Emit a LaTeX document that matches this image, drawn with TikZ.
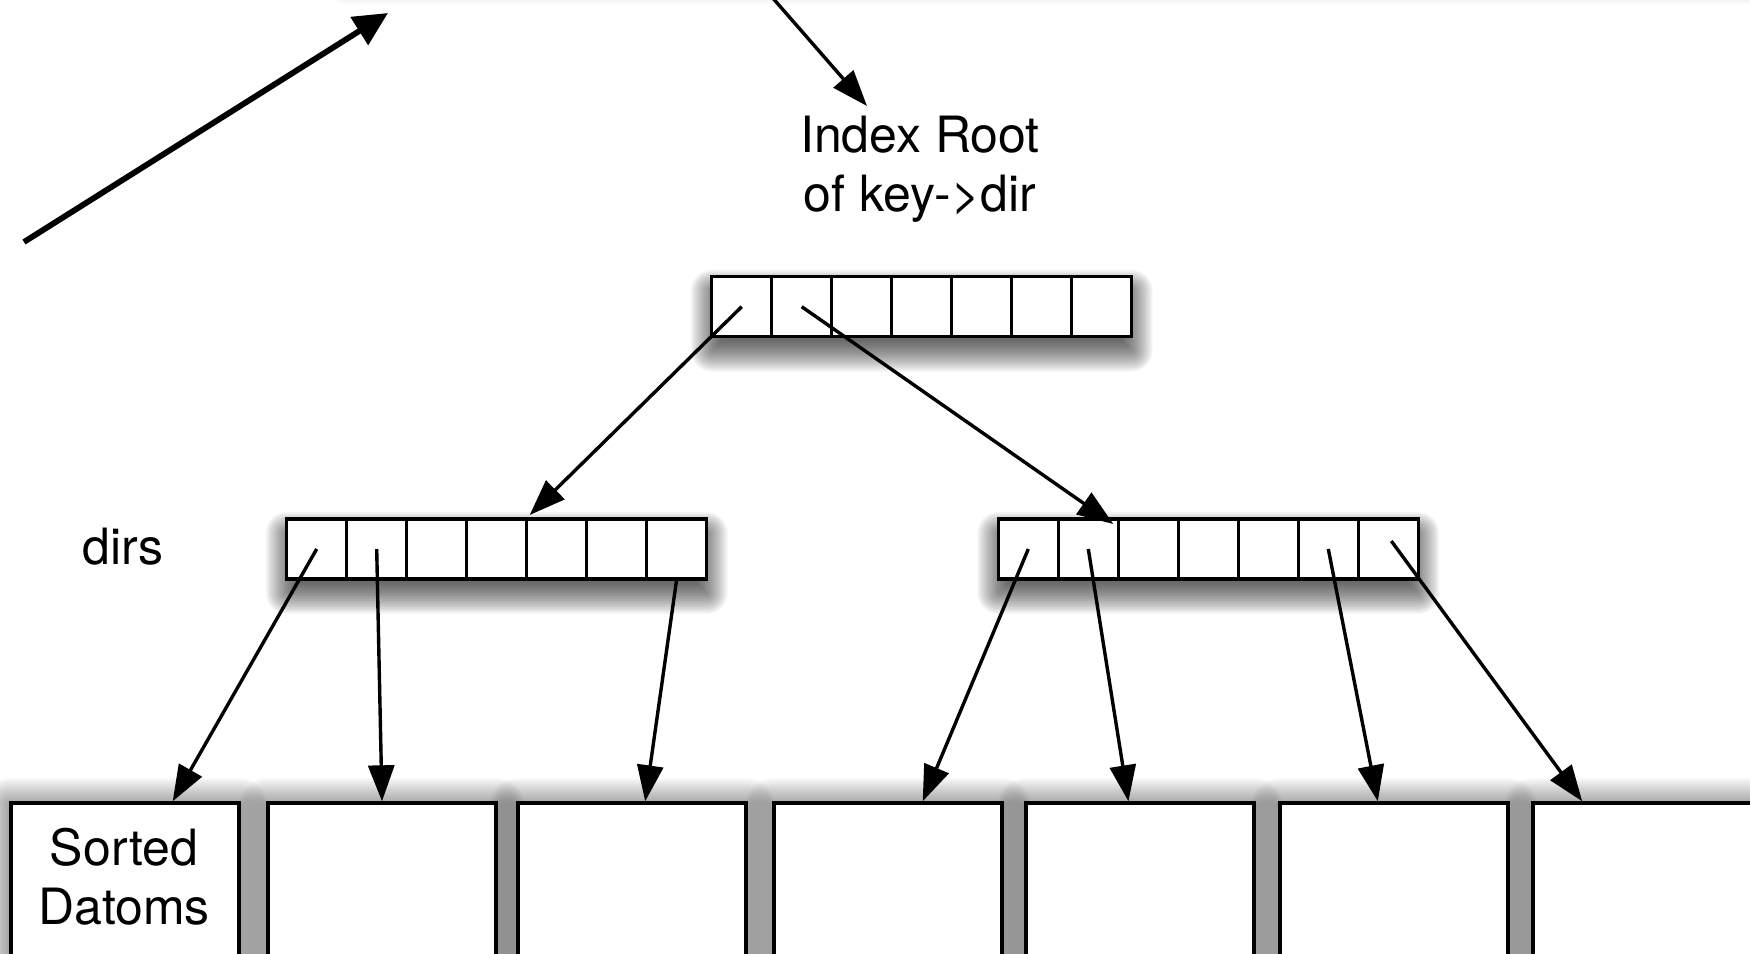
\documentclass[tikz,border=0pt]{standalone}
\usepackage{fontspec}
\setmainfont{TeX Gyre Heros}
\usetikzlibrary{arrows.meta,calc,backgrounds}

% soft drop shadow built from stacked translucent rounded rectangles
% #1 = north-west corner, #2 = south-east corner, #3 = drop, #4 = reach, #5 = layer opacity
\newcommand{\castshadow}[5]{%
  \foreach \j in {1,...,20}{%
    \pgfmathsetmacro{\ex}{(\j-7)*#4/20}%
    \pgfmathsetmacro{\rc}{max(0.5,\ex/2)}%
    \fill[black, opacity=#5, rounded corners=\rc pt]
      ($(#1)+(-\ex,#3-\ex)$) rectangle ($(#2)+(\ex,#3+\ex)$);
  }}

\begin{document}
\begin{tikzpicture}[x=0.5pt,y=-0.5pt,
  font=\fontsize{25pt}{29.5pt}\selectfont,
  cell/.style={draw, fill=white, line width=1.7pt, minimum width=30pt,
    minimum height=30pt, inner sep=0pt, outer sep=0pt},
  pagebox/.style={draw, fill=white, line width=1.7pt, minimum width=114pt,
    minimum height=150pt, inner sep=0pt, outer sep=0.85pt},
  link/.style={-{Triangle[length=18pt,width=13pt]}, line width=1.7pt},
  boldlink/.style={-{Triangle[length=17pt,width=16pt]}, line width=2.9pt},
  txt/.style={inner sep=0pt, align=center}
]
\useasboundingbox (0,0) rectangle (1750,953);

% panel above the visible area, only its shadow reaches down
\node[fill=white, minimum width=760pt, minimum height=100pt, inner sep=0pt]
  (upper) at (1105,-112) {};

% arrays of cells
\foreach \k in {1,...,7} {
  \node[cell] (r\k) at ({681.7+60*\k},306.7) {};
  \node[cell] (l\k) at ({256.7+60*\k},549) {};
  \node[cell] (q\k) at ({968.3+60*\k},549) {};
}

% leaf pages
\foreach \k/\cx in {1/125,2/382,3/632,4/888,5/1140,6/1394,7/1647}
  \node[pagebox] (b\k) at (\cx,953) {};

% shadows under arrays, pages and the upper panel
\begin{scope}[on background layer]
  \castshadow{upper.north west}{upper.south east}{0}{24}{0.012}
  \castshadow{r1.north west}{r7.south east}{14}{32}{0.042}
  \castshadow{l1.north west}{l7.south east}{14}{32}{0.042}
  \castshadow{q1.north west}{q7.south east}{14}{32}{0.042}
  \foreach \k in {1,...,7}{
    \castshadow{b\k.north west}{b\k.south east}{3}{40}{0.03}
  }
\end{scope}

% labels
\node[txt, anchor=north] (idx) at (920,116) {Index Root\\of key->dir};
\node[txt] (dl) at (123,547) {dirs};
\node[txt] (sd) at (124,877) {Sorted\\Datoms};

% incoming arrows at the top
\coordinate (tl) at (24,242);
\coordinate (tr) at (388,13);
\draw[boldlink] (tl) -- (tr);
\coordinate (src) at (771,-4);
\draw[link] (src) -- ($(idx.north)+(-53,-10)$);

% root to dirs
\draw[link] (r1.center) -- ($(l5.north west)+(3,-4)$);
\draw[link] (r2.center) -- ($(q2.north east)+(-5,5)$);

% dirs to pages
\draw[link] (l1.center) -- ($(b1.north west)!0.706!(b1.north east)$);
\draw[link] (l2.center) -- ($(b2.north west)!0.5!(b2.north east)$);
\draw[link] (l7.south) -- ($(b3.north west)!0.557!(b3.north east)$);
\draw[link] (q1.center) -- ($(b4.north west)!0.65!(b4.north east)$);
\draw[link] (q2.center) -- ($(b5.north west)!0.45!(b5.north east)$);
\draw[link] (q6.center) -- ($(b6.north west)!0.43!(b6.north east)$);
\draw[link] ($(q7.center)+(3,-8)$) -- ($(b7.north west)!0.22!(b7.north east)$);
\end{tikzpicture}
\end{document}
